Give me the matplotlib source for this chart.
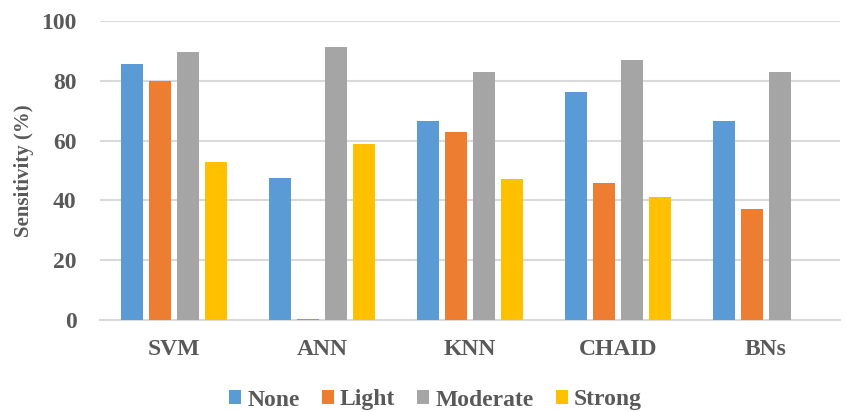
import matplotlib
matplotlib.use("Agg")
import matplotlib.pyplot as plt
import numpy as np

categories = ["SVM", "ANN", "KNN", "CHAID", "BNs"]
series_names = ["None", "Light", "Moderate", "Strong"]
none_vals = [85.6, 47.6, 66.6, 76.1, 66.6]
light_vals = [80.0, 0.4, 62.9, 45.7, 37.1]
moderate_vals = [89.5, 91.4, 82.9, 87.1, 82.9]
strong_vals = [52.9, 58.8, 47.0, 41.0, 0.0]
colors = ["#5B9BD5", "#ED7D31", "#A5A5A5", "#FFC000"]
yticks = [0, 20, 40, 60, 80, 100]

plt.rcParams['font.family'] = ['Liberation Serif', 'DejaVu Serif']
text_color = "#595959"

fig = plt.figure(figsize=(8.47, 4.12), dpi=100)
ax = fig.add_axes([100/847, 1 - 320/412, 740/847, 299/412])

x = np.arange(len(categories))
pitch = 0.189
width = 0.149
all_vals = [none_vals, light_vals, moderate_vals, strong_vals]
for i, (name, vals, c) in enumerate(zip(series_names, all_vals, colors)):
    ax.bar(x + (i - 1.5) * pitch, vals, width, color=c, label=name, zorder=3)

ax.set_xlim(-0.5, len(categories) - 0.5)
ax.set_ylim(0, 100)
ax.set_yticks(yticks)
ax.yaxis.grid(True, color="#D9D9D9", linewidth=1.5, zorder=0)
ax.set_axisbelow(True)
for s in ["top", "right", "left"]:
    ax.spines[s].set_visible(False)
ax.spines["bottom"].set_color("#D9D9D9")
ax.spines["bottom"].set_linewidth(1.5)
ax.tick_params(axis="both", length=0, labelsize=17, labelcolor=text_color)
ax.tick_params(axis="y", pad=17)
ax.tick_params(axis="x", pad=14)
ax.set_xticks(x)
ax.set_xticklabels(categories, fontweight="bold")
for lbl in ax.get_yticklabels():
    lbl.set_fontweight("bold")
ax.set_ylabel("Sensitivity (%)", fontsize=15, fontweight="bold", color=text_color, labelpad=5)

leg = fig.legend(loc="center", bbox_to_anchor=(435.5/847, 1 - 400/412), ncol=4, frameon=False,
                 prop={"size": 17, "weight": "bold"}, handlelength=0.5, handleheight=0.5,
                 handletextpad=0.25, columnspacing=0.95)
for t in leg.get_texts():
    t.set_color(text_color)

fig.savefig("out.png", dpi=100)
